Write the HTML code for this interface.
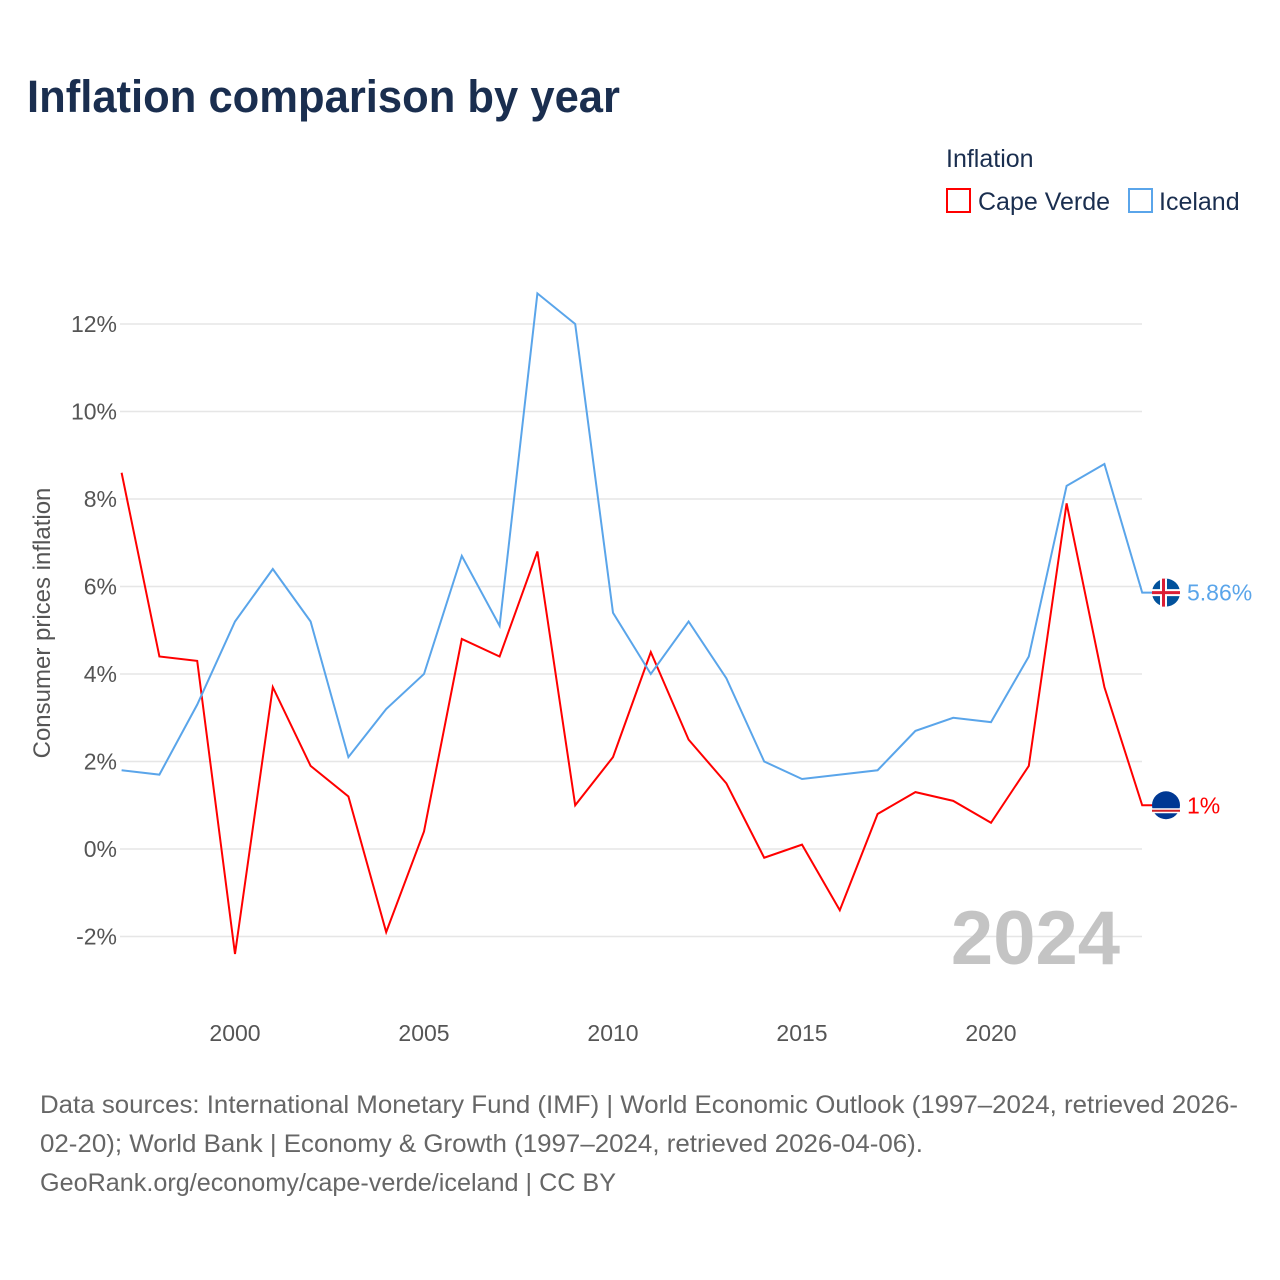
<!DOCTYPE html>
<html><head><meta charset="utf-8"><style>
body{margin:0;background:#fff;font-family:"Liberation Sans",sans-serif;}
#wrap{position:relative;width:1280px;height:1280px;overflow:hidden;}
</style></head><body>
<div id="wrap">
<svg id="chart" width="1280" height="1280" xmlns="http://www.w3.org/2000/svg">
<text x="27" y="112" font-size="45" font-weight="bold" fill="#1a2e4f" textLength="593" lengthAdjust="spacingAndGlyphs">Inflation comparison by year</text>
<text x="946" y="167" font-size="25" fill="#1a2e4f">Inflation</text>
<g><rect x="947" y="189" width="23" height="23" fill="none" stroke="#f00" stroke-width="2"/><text x="978" y="210" font-size="25" fill="#1a2e4f">Cape Verde</text></g>
<g><rect x="1129" y="189" width="23" height="23" fill="none" stroke="#5aa5ea" stroke-width="2"/><text x="1159" y="210" font-size="25" fill="#1a2e4f">Iceland</text></g>
<text transform="translate(50,623) rotate(-90)" text-anchor="middle" font-size="24" fill="#555">Consumer prices inflation</text>
<g id="grid"></g><g id="ticks"></g><g id="lines"></g>
<text x="1120" y="964" text-anchor="end" font-size="76" font-weight="bold" fill="#c4c4c4">2024</text>
<text x="40" y="1113" font-size="25" fill="#666" textLength="1198" lengthAdjust="spacingAndGlyphs">Data sources: International Monetary Fund (IMF) | World Economic Outlook (1997–2024, retrieved 2026-</text>
<text x="40" y="1152" font-size="25" fill="#666" textLength="883" lengthAdjust="spacingAndGlyphs">02-20); World Bank | Economy &amp; Growth (1997–2024, retrieved 2026-04-06).</text>
<text x="40" y="1191" font-size="25" fill="#666" textLength="576" lengthAdjust="spacingAndGlyphs">GeoRank.org/economy/cape-verde/iceland | CC BY</text>
</svg>
</div>
<script>
const years=[1997,1998,1999,2000,2001,2002,2003,2004,2005,2006,2007,2008,2009,2010,2011,2012,2013,2014,2015,2016,2017,2018,2019,2020,2021,2022,2023,2024];
const capeVerde=[8.6,4.4,4.3,-2.4,3.7,1.9,1.2,-1.9,0.4,4.8,4.4,6.8,1.0,2.1,4.5,2.5,1.5,-0.2,0.1,-1.4,0.8,1.3,1.1,0.6,1.9,7.9,3.7,1.0];
const iceland=[1.8,1.7,3.3,5.2,6.4,5.2,2.1,3.2,4.0,6.7,5.1,12.7,12.0,5.4,4.0,5.2,3.9,2.0,1.6,1.7,1.8,2.7,3.0,2.9,4.4,8.3,8.8,5.86];
const yTicks=[-2,0,2,4,6,8,10,12];
const xTicks=[2000,2005,2010,2015,2020];
const endLabels=["1%","5.86%"];
const NS="http://www.w3.org/2000/svg";
const X=y=>121.6+(y-1997)*37.8;
const Y=v=>849-v*43.75;
function mk(t,a,p){const e=document.createElementNS(NS,t);for(const k in a)e.setAttribute(k,a[k]);p.appendChild(e);return e;}
const grid=document.getElementById('grid'),ticks=document.getElementById('ticks'),lines=document.getElementById('lines');
yTicks.forEach(v=>{
 const l=mk('line',{x1:120,x2:1142,y1:Y(v),y2:Y(v),stroke:'#e6e6e6','stroke-width':1.5},grid);
 
 
 const t=mk('text',{x:117,y:Y(v)+8,'text-anchor':'end','font-size':23,fill:'#555'},ticks);
 t.textContent=v+'%';
 
 
});
xTicks.forEach(v=>{
 const t=mk('text',{x:X(v),y:1041,'text-anchor':'middle','font-size':23,fill:'#555'},ticks);
 t.textContent=v;
 
 
});
function series(vals,color,name,label,flagFn){
 const pts=vals.map((v,i)=>X(years[i])+','+Y(v)).join(' ');
 const last=vals[vals.length-1];
 const p=mk('polyline',{points:pts+' '+(X(years[years.length-1])+12)+','+Y(last),fill:'none',stroke:color,'stroke-width':2},lines);
 
 
 const g=mk('g',{},lines);
 
 
 flagFn(g,1166,Y(last));
 const t=mk('text',{x:1187,y:Y(last)+8,'font-size':23,fill:color},lines);
 t.textContent=label;
 
 
}
series(capeVerde,'#f00','cape-verde',endLabels[0],(g,cx,cy)=>{
 mk('circle',{cx:cx,cy:cy,r:14,fill:'#003893'},g);
 mk('rect',{x:cx-14,y:cy+3,width:28,height:5,fill:'#fff'},g);
 mk('rect',{x:cx-14,y:cy+4.5,width:28,height:2,fill:'#cf2027'},g);
});
series(iceland,'#5aa5ea','iceland',endLabels[1],(g,cx,cy)=>{
 mk('circle',{cx:cx,cy:cy,r:14,fill:'#02529c'},g);
 mk('rect',{x:cx-14,y:cy-3.5,width:28,height:7,fill:'#fff'},g);
 mk('rect',{x:cx-6,y:cy-14,width:7,height:28,fill:'#fff'},g);
 mk('rect',{x:cx-14,y:cy-1.5,width:28,height:3,fill:'#dc1e35'},g);
 mk('rect',{x:cx-4,y:cy-14,width:3,height:28,fill:'#dc1e35'},g);
});
</script>
</body></html>
